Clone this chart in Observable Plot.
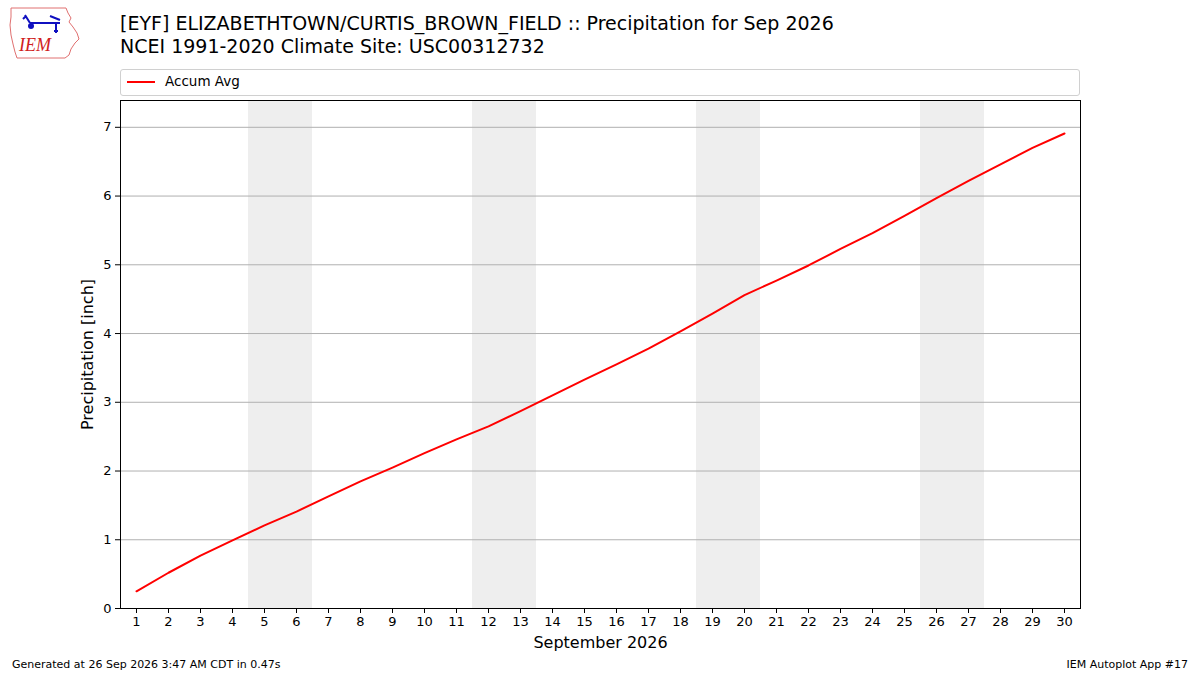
<!DOCTYPE html>
<html><head><meta charset="utf-8">
<script src="https://cdn.jsdelivr.net/npm/d3@7"></script>
<script src="https://cdn.jsdelivr.net/npm/@observablehq/plot@0.6"></script>
<style>
body{margin:0;background:#fff;font-family:"DejaVu Sans",sans-serif;}
#wrap{position:relative;width:1200px;height:675px;overflow:hidden;}
#chart{position:absolute;left:0;top:0;}
.t{position:absolute;color:#000;white-space:nowrap;}
</style></head><body>
<div id="wrap">
<div id="chart"></div>
<svg style="position:absolute;left:8px;top:5px;overflow:visible" width="74" height="56" viewBox="0 0 74 56">
<path d="M3,3 L58,3 L60,8 L63,13 L61,17 L65,22 L69,28 L71,34 L67,38 L63,44 L61,50 L57,53 L9,53 L7,47 L5,39 L3,30 L2,20 L3,12 Z" fill="none" stroke="#e07070" stroke-width="1"/>
<path d="M22,18 L52,18 M42,11 L52,15 M48,18 L48,28 M46,26 L50,26 M22,18 L17,10 M18,11 L15,14" stroke="#1010c0" stroke-width="2" fill="none"/>
<circle cx="23" cy="21" r="3" fill="#1010c0"/>
<text x="11" y="46" font-family="Liberation Serif,serif" font-style="italic" font-size="18" fill="#d02020">IEM</text>
</svg>
<div class="t" style="left:120px;top:12px;font-size:19px;">[EYF] ELIZABETHTOWN/CURTIS_BROWN_FIELD :: Precipitation for Sep 2026</div>
<div class="t" style="left:120px;top:35px;font-size:19px;">NCEI 1991-2020 Climate Site: USC00312732</div>
<div style="position:absolute;left:120px;top:69px;width:958px;height:25px;border:1px solid #d0d0d0;border-radius:3px;background:#fff;">
<div style="position:absolute;left:6px;top:11px;width:28px;height:2px;background:#ff0000;"></div>
<div class="t" style="left:44px;top:3px;font-size:13.5px;">Accum Avg</div>
</div>
<div class="t" style="left:12px;top:658px;font-size:11px;">Generated at 26 Sep 2026 3:47 AM CDT in 0.47s</div>
<div class="t" style="right:12px;top:658px;font-size:11px;">IEM Autoplot App #17</div>
</div>
<script>
const days = d3.range(1, 31);
const accumAvg = [0.25,0.52,0.77,0.99,1.21,1.41,1.63,1.85,2.05,2.26,2.46,2.65,2.87,3.10,3.33,3.55,3.78,4.03,4.29,4.56,4.77,4.99,5.23,5.46,5.71,5.97,6.22,6.46,6.70,6.91];
const weekendStarts = [5, 12, 19, 26];
const yTicks = [0,1,2,3,4,5,6,7];
const data = days.map((d,i)=>({day:d, value:accumAvg[i]}));

const chart = Plot.plot({
  width: 1200, height: 675,
  marginLeft: 120, marginRight: 120, marginTop: 100, marginBottom: 67,
  style: {fontFamily: "DejaVu Sans, sans-serif", fontSize: "13px", background: "transparent", color: "#000"},
  x: {domain: [0.5, 30.5]},
  y: {domain: [0, 7.39]},
  marks: [
    Plot.rect(weekendStarts, {x1: d => d - 0.5, x2: d => d + 1.5, fill: "#eeeeee"}),
    Plot.gridY(yTicks, {stroke: "#b0b0b0", strokeOpacity: 1, strokeWidth: 1}),
    Plot.line(data, {x: "day", y: "value", stroke: "#ff0000", strokeWidth: 2}),
    Plot.frame({stroke: "#000", strokeWidth: 1}),
    Plot.axisX(days, {tickSize: 5, tickPadding: 3, fontSize: 13, label: null, tickFormat: "d"}),
    Plot.axisY(yTicks, {tickSize: 5, tickPadding: 4, fontSize: 13, label: null, tickFormat: "d"}),
    Plot.text(["September 2026"], {frameAnchor: "bottom", dy: 28, fontSize: 16, lineAnchor: "top"}),
    Plot.text(["Precipitation [inch]"], {frameAnchor: "left", dx: -33, rotate: -90, fontSize: 16, textAnchor: "middle", lineAnchor: "middle"})
  ]
});
document.getElementById("chart").appendChild(chart);
</script>
</body></html>
